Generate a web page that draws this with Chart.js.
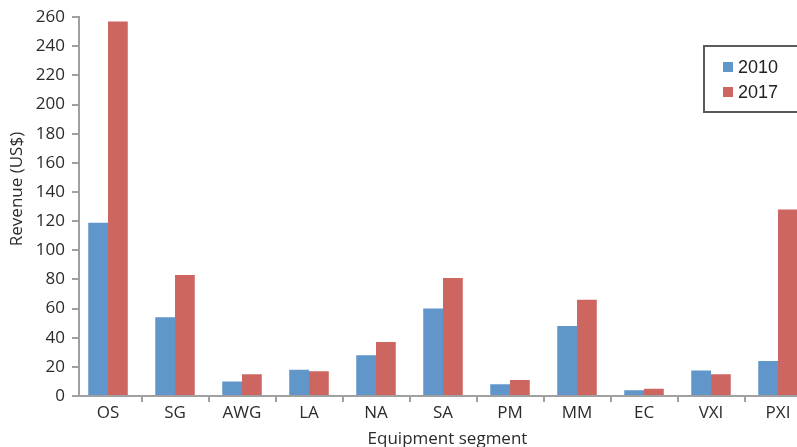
<!DOCTYPE html>
<html>
<head>
<meta charset="utf-8">
<script src="https://cdn.jsdelivr.net/npm/chart.js@4"></script>
<style>
  html, body { margin: 0; padding: 0; background: #fff; overflow: hidden; width: 797px; height: 447px; }
  canvas { display: block; }
</style>
</head>
<body>
<canvas id="c" width="816" height="447" style="width:816px;height:447px"></canvas>
<script>
// Revenue by equipment segment, 2010 vs 2017 (US$)
const segments = ['OS', 'SG', 'AWG', 'LA', 'NA', 'SA', 'PM', 'MM', 'EC', 'VXI', 'PXI'];
const revenue2010 = [119, 54, 10, 18, 28, 60, 8, 48, 4, 17.5, 24];
const revenue2017 = [257, 83, 15, 17, 37, 81, 11, 66, 5, 15, 128];
const seriesLabels = ['2010', '2017'];
const yMin = 0, yMax = 260, yStep = 20;
const xTitle = 'Equipment segment';
const yTitle = 'Revenue (US$)';

const AXIS_GREY = '#a0a0a0';
const TEXT = '#2b2b2b';
const AXIS_FONT = '"Open Sans", Lato, sans-serif';

// Boxed legend in the upper-right corner, plus the value-axis title
const annotations = {
  id: 'annotations',
  afterDraw(chart) {
    const ctx = chart.ctx;
    ctx.save();
    ctx.strokeStyle = '#5a5a5a';
    ctx.lineWidth = 2;
    ctx.strokeRect(704, 46, 130, 66);
    ctx.font = '18px "Liberation Sans", Arial, sans-serif';
    ctx.textBaseline = 'middle';
    ctx.textAlign = 'left';
    chart.data.datasets.forEach((ds, i) => {
      const y = 67 + i * 25;
      ctx.fillStyle = ds.backgroundColor;
      ctx.fillRect(723, y - 5, 10, 10);
      ctx.fillStyle = '#222';
      ctx.fillText(ds.label, 738, y + 1);
    });

    ctx.translate(17, 189);
    ctx.rotate(-Math.PI / 2);
    ctx.font = '17px ' + AXIS_FONT;
    ctx.fillStyle = TEXT;
    ctx.textAlign = 'center';
    ctx.fillText(yTitle, 0, 0);
    ctx.restore();
  }
};

new Chart(document.getElementById('c'), {
  type: 'bar',
  data: {
    labels: segments,
    datasets: [
      { label: seriesLabels[0], data: revenue2010, backgroundColor: '#6096ca' },
      { label: seriesLabels[1], data: revenue2017, backgroundColor: '#cd6661' }
    ]
  },
  options: {
    responsive: false,
    animation: false,
    devicePixelRatio: 1,
    layout: { padding: { top: 16, right: 0, bottom: 0, left: 0 } },
    datasets: { bar: { categoryPercentage: 0.59, barPercentage: 1.0 } },
    plugins: { legend: { display: false }, tooltip: { enabled: false } },
    scales: {
      x: {
        afterFit(scale) { scale.height = 51; },
        // nudge the category band slightly left of the value axis
        afterBuildTicks(scale) { scale._startValue += 0.067; },
        border: { display: true, color: AXIS_GREY, width: 2 },
        grid: {
          drawOnChartArea: false,
          drawTicks: true,
          tickLength: 6,
          lineWidth: 2,
          color: (ctx) => ctx.index === 0 ? 'rgba(0,0,0,0)' : AXIS_GREY
        },
        ticks: {
          padding: 1,
          color: TEXT,
          font: { family: AXIS_FONT, size: 17 }
        },
        title: {
          display: true,
          text: xTitle,
          color: TEXT,
          font: { family: AXIS_FONT, size: 17 },
          padding: { top: 0, bottom: -2 }
        }
      },
      y: {
        min: yMin,
        max: yMax,
        afterFit(scale) { scale.width = 79; },
        border: { display: true, color: AXIS_GREY, width: 2 },
        grid: {
          drawOnChartArea: false,
          drawTicks: true,
          tickLength: 7,
          lineWidth: 2,
          color: AXIS_GREY
        },
        ticks: {
          stepSize: yStep,
          padding: 7,
          color: TEXT,
          font: { family: AXIS_FONT, size: 17 }
        }
      }
    }
  },
  plugins: [annotations]
});
</script>
</body>
</html>
